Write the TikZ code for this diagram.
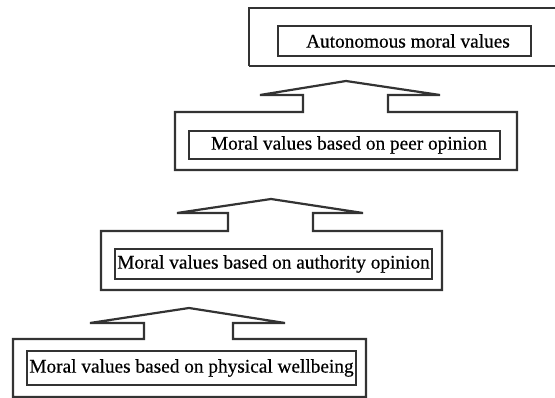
\documentclass[tikz,border=0pt]{standalone}
\usepackage{fontspec}
\setmainfont[FakeBold=0.4]{Liberation Serif}
\definecolor{edge}{HTML}{333333}
\begin{document}
\begin{tikzpicture}[x=1pt,y=-1pt,
  outer/.style={draw=edge,line width=2.2pt},
  inner/.style={draw=edge,line width=2.2pt,inner sep=0pt,
    font=\fontsize{19.3}{21}\selectfont,text=black}]
\useasboundingbox (0,0) rectangle (555,398);
\clip (0,0) rectangle (555,398);
% level 1
\draw[outer] (249,66) -- (249,8) -- (560,8) (560,66) -- (249,66);
\node[inner,minimum width=253pt,minimum height=30pt] (b1) at (404.5,41) {\hspace*{7pt}Autonomous moral values};
% level 2
\draw[outer] (175,112) -- (303,112) -- (303,95) -- (260,95) -- (346,81) -- (440,95) -- (388,95) -- (388,112) -- (517,112) -- (517,170) -- (175,170) -- cycle;
\node[inner,minimum width=311pt,minimum height=28pt] (b2) at (344.5,145) {\hspace*{9pt}Moral values based on peer opinion};
% level 3
\draw[outer] (101,231) -- (228,231) -- (228,213) -- (177,213) -- (271,199) -- (363,213) -- (313,213) -- (313,231) -- (442,231) -- (442,290) -- (101,290) -- cycle;
\node[inner,minimum width=317pt,minimum height=30pt] (b3) at (273.5,264) {Moral values based on authority opinion};
% level 4
\draw[outer] (13,339) -- (144,339) -- (144,323) -- (90,323) -- (189,308) -- (285,323) -- (233,323) -- (233,339) -- (366,339) -- (366,397) -- (13,397) -- cycle;
\node[inner,minimum width=329pt,minimum height=34pt] (b4) at (191.5,368) {Moral values based on physical wellbeing};
\end{tikzpicture}
\end{document}
